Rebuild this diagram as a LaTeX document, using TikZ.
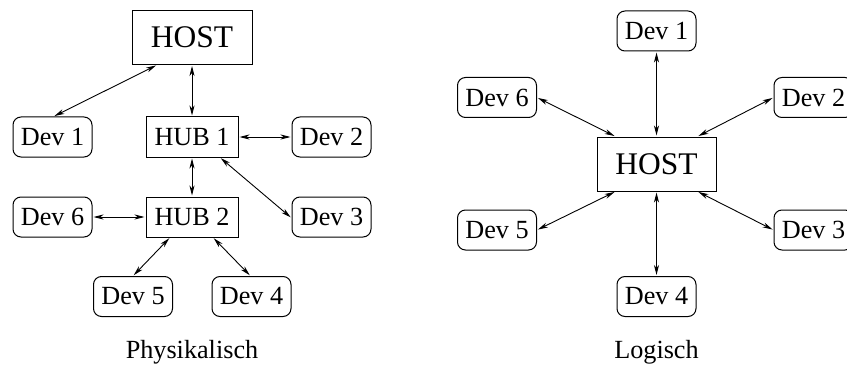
\documentclass[tikz,border=0pt]{standalone}
\usepackage{fontspec}
\setmainfont{Liberation Serif}
\usetikzlibrary{arrows.meta}
\begin{document}
\begin{tikzpicture}[x=1pt,y=-1pt,
  dev/.style={draw,line width=1pt,rounded corners=8pt,minimum width=79pt,minimum height=40pt,inner sep=0pt,font=\fontsize{26.2}{31}\selectfont},
  hub/.style={draw,line width=1pt,minimum width=92pt,minimum height=40pt,inner sep=0pt,font=\fontsize{26.2}{31}\selectfont},
  host/.style={draw,line width=1pt,minimum width=120pt,minimum height=54pt,inner sep=0pt,font=\fontsize{31.5}{38}\selectfont},
  captiontext/.style={inner sep=0pt,font=\fontsize{26.2}{31}\selectfont},
  arr/.style={line width=0.9pt,{Stealth[length=10pt,width=5pt,inset=3pt]}-{Stealth[length=10pt,width=5pt,inset=3pt]},shorten <=1pt,shorten >=1pt}]
\useasboundingbox (0,0) rectangle (847,369);
% left: physical
\node[host] (hostL) at (192,37.5) {HOST};
\node[dev] (d1L) at (52.5,137) {Dev 1};
\node[hub] (hub1) at (192,137) {HUB 1};
\node[dev] (d2L) at (331.5,137) {Dev 2};
\node[hub] (hub2) at (192,217) {HUB 2};
\node[dev] (d6L) at (52.5,217) {Dev 6};
\node[dev] (d3L) at (331.5,217) {Dev 3};
\node[dev] (d5L) at (133,296.5) {Dev 5};
\node[dev] (d4L) at (251.5,296.5) {Dev 4};
\node[captiontext] (physL) at (192,352) {Physikalisch};
\draw[arr] ([xshift=-35pt]hostL.south) -- ([xshift=1pt]d1L.north);
\draw[arr] (hostL.south) -- (hub1.north);
\draw[arr] (hub1.east) -- (d2L.west);
\draw[arr] (hub1.south) -- (hub2.north);
\draw[arr] ([xshift=28pt]hub1.south) -- ([yshift=-1pt]d3L.west);
\draw[arr] (hub2.west) -- (d6L.east);
\draw[arr] ([xshift=-22pt]hub2.south) -- (d5L.north);
\draw[arr] ([xshift=21pt]hub2.south) -- ([xshift=-1pt]d4L.north);
% right: logical
\node[host,minimum width=119pt] (hostR) at (656.5,164) {HOST};
\node[dev] (d1R) at (656.5,31) {Dev 1};
\node[dev] (d6R) at (497,97.5) {Dev 6};
\node[dev] (d2R) at (813.5,97.5) {Dev 2};
\node[dev] (d5R) at (497,230) {Dev 5};
\node[dev] (d3R) at (813.5,230) {Dev 3};
\node[dev] (d4R) at (656.5,296.5) {Dev 4};
\node[captiontext] (logR) at (656.5,352) {Logisch};
\draw[arr] (hostR.north) -- (d1R.south);
\draw[arr] ([xshift=-41pt]hostR.north) -- (d6R.east);
\draw[arr] ([xshift=41pt]hostR.north) -- (d2R.west);
\draw[arr] ([xshift=-41pt]hostR.south) -- (d5R.east);
\draw[arr] ([xshift=41pt]hostR.south) -- (d3R.west);
\draw[arr] (hostR.south) -- (d4R.north);
\end{tikzpicture}
\end{document}
